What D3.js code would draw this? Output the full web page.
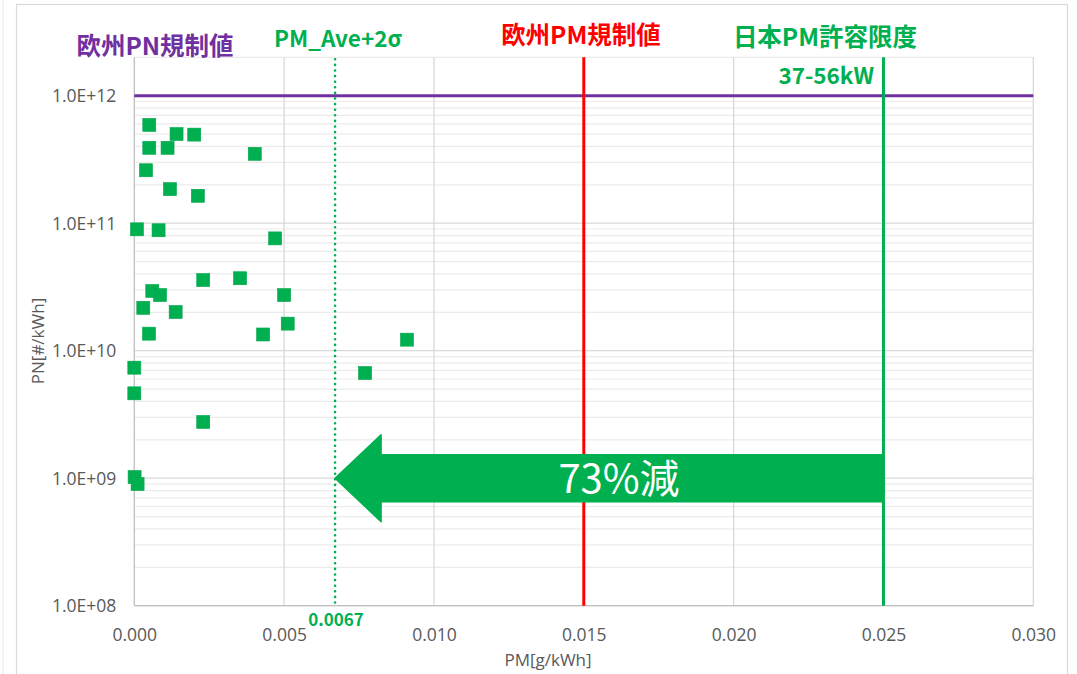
<!DOCTYPE html>
<html>
<head>
<meta charset="utf-8">
<script src="https://cdn.jsdelivr.net/npm/d3@7"></script>
<style>
  html, body { margin: 0; padding: 0; background: #fff; }
  svg { display: block; }
  .tick text { font-family: "Open Sans", sans-serif; fill: #595959; }
</style>
</head>
<body>
<svg id="chart" width="1077" height="674"></svg>
<script>
// PM vs PN per engine test (g/kWh, #/kWh)
const pmValues = [0.0005, 0.00141, 0.0020, 0.0005, 0.00111, 0.00402, 0.00039, 0.00119, 0.00212,
                  0.00009, 0.00081, 0.0047, 0.0023, 0.00353, 0.0006, 0.00086, 0.0050, 0.0003,
                  0.00138, 0.00049, 0.0043, 0.00512, 0.0091, 0.0000, 0.0077, 0.0000, 0.0023,
                  0.00001, 0.00011];
const pnValues = [5.9e11, 5.0e11, 4.95e11, 3.9e11, 3.9e11, 3.5e11, 2.6e11, 1.85e11, 1.64e11,
                  8.95e10, 8.8e10, 7.6e10, 3.58e10, 3.7e10, 2.94e10, 2.73e10, 2.73e10, 2.17e10,
                  2.01e10, 1.36e10, 1.34e10, 1.63e10, 1.22e10, 7.36e9, 6.68e9, 4.63e9, 2.76e9,
                  1.02e9, 9.0e8];

const xTicks = [0, 0.005, 0.010, 0.015, 0.020, 0.025, 0.030];
const yTicks = [1e8, 1e9, 1e10, 1e11, 1e12];

// Limits and reference values
const euPnLimit = 1e12;
const pmAve2Sigma = 0.0067;
const euPmLimit = 0.015;
const jpPmLimit = 0.025;
const reductionLabel = "73%減";

const svg = d3.select("#chart");
const plotLeft = 134.3, plotRight = 1033.3, plotBottom = 605.7, plotTop = 57.3;

const x = d3.scaleLinear().domain([0, 0.03]).range([plotLeft, plotRight]);
const y = d3.scaleLog().domain([1e8, 2e12]).range([plotBottom, plotTop]);

// outer frame
svg.append("rect").attr("x", 16.5).attr("y", 4.5).attr("width", 1051).attr("height", 720)
  .attr("fill", "none").attr("stroke", "#d9d9d9").attr("stroke-width", 1.2);
svg.append("line").attr("x1", 3).attr("x2", 3).attr("y1", 0).attr("y2", 674)
  .attr("stroke", "#e6e6e6").attr("stroke-width", 1);

// minor horizontal gridlines
const minor = [];
for (let e = 8; e <= 11; e++) for (let m = 2; m <= 9; m++) minor.push(m * Math.pow(10, e));
minor.push(2e12);
svg.append("g").selectAll("line").data(minor).join("line")
  .attr("x1", plotLeft).attr("x2", plotRight)
  .attr("y1", d => y(d)).attr("y2", d => y(d))
  .attr("stroke", "#ebebeb").attr("stroke-width", 1.2);

// major horizontal gridlines
svg.append("g").selectAll("line").data(yTicks).join("line")
  .attr("x1", plotLeft).attr("x2", plotRight)
  .attr("y1", d => y(d)).attr("y2", d => y(d))
  .attr("stroke", "#d9d9d9").attr("stroke-width", 1.3);

// vertical gridlines
svg.append("g").selectAll("line").data(xTicks).join("line")
  .attr("x1", d => x(d)).attr("x2", d => x(d))
  .attr("y1", plotTop).attr("y2", plotBottom)
  .attr("stroke", d => d === 0 ? "#bfbfbf" : "#d9d9d9").attr("stroke-width", 1.3);

// bottom axis line
svg.append("line").attr("x1", plotLeft).attr("x2", plotRight).attr("y1", plotBottom).attr("y2", plotBottom)
  .attr("stroke", "#bfbfbf").attr("stroke-width", 1.3);

// axes
const yAxis = d3.axisLeft(y).tickValues(yTicks).tickSize(0).tickPadding(18)
  .tickFormat(d => "1.0E+" + String(Math.round(Math.log10(d))).padStart(2, "0"));
svg.append("g").attr("transform", `translate(${plotLeft},0)`).call(yAxis)
  .call(g => g.select(".domain").remove())
  .selectAll("text").attr("font-size", 17.5).attr("dy", "0.35em");

const xAxis = d3.axisBottom(x).tickValues(xTicks).tickSize(0).tickPadding(23)
  .tickFormat(d3.format(".3f"));
svg.append("g").attr("transform", `translate(0,${plotBottom})`).call(xAxis)
  .call(g => g.select(".domain").remove())
  .selectAll("text").attr("font-size", 17.5);

// axis titles
svg.append("text").attr("x", 548).attr("y", 666).attr("text-anchor", "middle")
  .attr("font-family", "Open Sans, sans-serif").attr("font-size", 17).attr("fill", "#595959")
  .text("PM[g/kWh]");
svg.append("text").attr("transform", "translate(44,341) rotate(-90)").attr("text-anchor", "middle")
  .attr("font-family", "Open Sans, sans-serif").attr("font-size", 17).attr("fill", "#595959")
  .text("PN[#/kWh]");

// EU PN limit
svg.append("line").attr("x1", plotLeft).attr("x2", plotRight)
  .attr("y1", y(euPnLimit)).attr("y2", y(euPnLimit))
  .attr("stroke", "#7030a0").attr("stroke-width", 3);

// PM average + 2 sigma (dotted)
svg.append("line").attr("x1", x(pmAve2Sigma)).attr("x2", x(pmAve2Sigma))
  .attr("y1", plotTop + 2).attr("y2", plotBottom)
  .attr("stroke", "#00b050").attr("stroke-width", 2.6)
  .attr("stroke-dasharray", "0 5.6").attr("stroke-linecap", "round");

// EU PM limit
svg.append("line").attr("x1", x(euPmLimit)).attr("x2", x(euPmLimit))
  .attr("y1", plotTop).attr("y2", plotBottom)
  .attr("stroke", "#ff0000").attr("stroke-width", 3);

// Japan PM limit
svg.append("line").attr("x1", x(jpPmLimit)).attr("x2", x(jpPmLimit))
  .attr("y1", plotTop).attr("y2", plotBottom)
  .attr("stroke", "#00b050").attr("stroke-width", 3);

// reduction arrow from Japan limit to Ave+2σ
const ay = y(1e9), tipX = x(pmAve2Sigma), tailX = x(jpPmLimit);
const headLen = 46, headHalf = 43.5, bodyHalf = 23.5;
const arrowPath = d3.path();
arrowPath.moveTo(tipX, ay);
arrowPath.lineTo(tipX + headLen, ay - headHalf);
arrowPath.lineTo(tipX + headLen, ay - bodyHalf);
arrowPath.lineTo(tailX, ay - bodyHalf);
arrowPath.lineTo(tailX, ay + bodyHalf);
arrowPath.lineTo(tipX + headLen, ay + bodyHalf);
arrowPath.lineTo(tipX + headLen, ay + headHalf);
arrowPath.closePath();
svg.append("path").attr("d", arrowPath.toString())
  .attr("fill", "#00b050").attr("stroke", "#00b050").attr("stroke-width", 1.5)
  .attr("stroke-linejoin", "round");
svg.append("text").attr("x", 619).attr("y", ay).attr("dy", "0.36em").attr("text-anchor", "middle")
  .attr("font-family", "Noto Sans CJK JP, sans-serif").attr("font-size", 40).attr("fill", "#fff")
  .text(reductionLabel);

// data points
svg.append("g").selectAll("rect").data(pmValues.map((v, i) => [v, pnValues[i]])).join("rect")
  .attr("x", d => x(d[0]) - 6.5).attr("y", d => y(d[1]) - 6.5)
  .attr("width", 13).attr("height", 13)
  .attr("fill", "#00b050").attr("stroke", "#00a64a").attr("stroke-width", 0.6);

// labels
const label = (t, xp, yp, color, size, anchor = "middle") =>
  svg.append("text").attr("x", xp).attr("y", yp).attr("text-anchor", anchor)
    .attr("font-family", "Noto Sans CJK JP, sans-serif").attr("font-weight", "bold")
    .attr("font-size", size).attr("fill", color).text(t);

label("欧州PN規制値", 155, 55, "#7030a0", 24.5);
label("PM_Ave+2σ", 338, 47, "#00b050", 22.5);
label("欧州PM規制値", 581, 44, "#ff0000", 24.5);
label("日本PM許容限度", 825, 46, "#00b050", 24.5);
label("37-56kW", 874, 84, "#00b050", 22.5, "end");
label("0.0067", 336, 626, "#00b050", 17);
</script>
</body>
</html>
